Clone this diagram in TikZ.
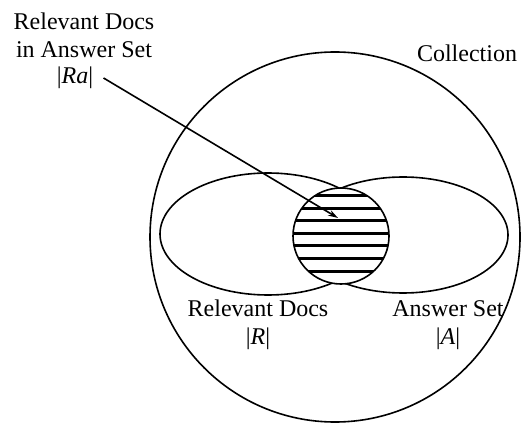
\documentclass[tikz,border=0pt]{standalone}
\usepackage{fontspec}
\setmainfont{Liberation Serif}
\usetikzlibrary{shapes.geometric, arrows.meta}

\begin{document}
\begin{tikzpicture}[
    x=0.5pt, y=-0.5pt,
    >=Stealth,
    every node/.style={font=\fontsize{12}{14}\selectfont},
    set/.style={
        draw,
        ellipse,
        line width=0.8pt,
        inner sep=0pt
    },
    hatch/.style={line width=1.5pt}
]
\useasboundingbox (0,0) rectangle (522,426);

% sets
\node[set, circle, minimum size=185pt] (C) at (335,237) {};
\node[set, minimum width=108pt, minimum height=61pt] (R) at (268,234) {};
\node[set, minimum width=105pt, minimum height=58pt] (A) at (403,235) {};
\node[set, circle, minimum size=48pt, fill=white,
    path picture={
        \foreach \yy in {-40,-27.5,...,36}
            \draw[hatch] (-60,\yy) -- (60,\yy);
    }] (Ra) at (341,236) {};

% labels
\node[align=center] (ratitle) at (84,35) {Relevant Docs\\in Answer Set};
\node[inner sep=1pt] (ralabel) at (75,78) {|\textit{Ra}|};
\node (coll) at (467,53) {Collection};
\node[align=center] (rel) at (258,325) {Relevant Docs\\|\textit{R}|};
\node[align=center] (ans) at (448,325) {Answer Set\\|\textit{A}|};

% pointer
\coordinate (tip) at (338,218);
\draw[-{Stealth[length=5pt, width=3pt]}, line width=0.8pt] ([xshift=4pt]ralabel.east) -- (tip);
\end{tikzpicture}
\end{document}
